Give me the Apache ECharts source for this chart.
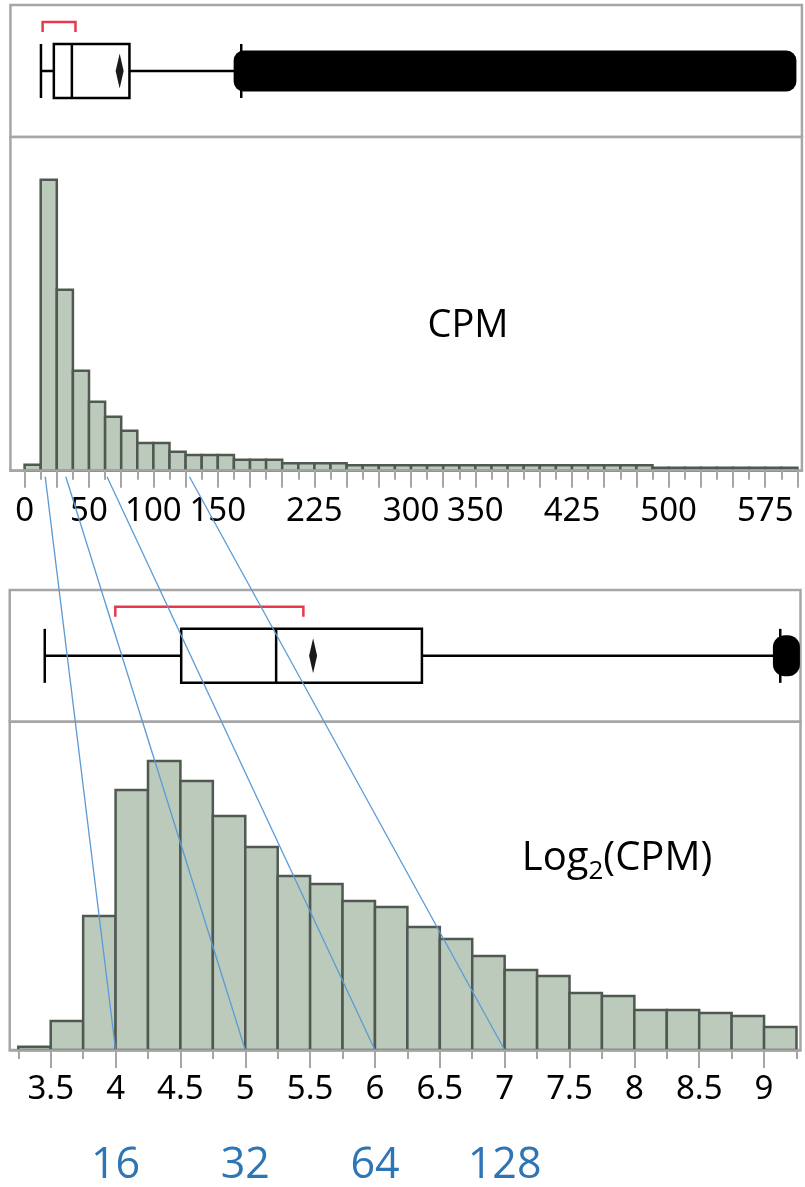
<!DOCTYPE html>
<html>
<head>
<meta charset="utf-8">
<script src="https://cdn.jsdelivr.net/npm/echarts@6/dist/echarts.min.js"></script>
<style>
  html, body { margin: 0; padding: 0; background: #fff; }
  #chart { width: 805px; height: 1187px; }
</style>
</head>
<body>
<div id="chart"></div>
<script>
// ---- CPM distribution (bins of 12.5 starting at 0) ----
const cpmBinStart = 0;
const cpmBinWidth = 12.5;
const cpmCounts = [
  6, 291, 181, 100, 69, 54, 40, 27.7, 27.7, 19,
  15.7, 15.7, 15.7, 11, 11, 11, 7.5, 7.5, 7.5, 7.5,
  5.5, 5.5, 5.5, 5.5, 5.5, 5.5, 5.5, 5.5, 5.5, 5.5,
  5.5, 5.5, 5.5, 5.5, 5.5, 5.5, 5.5, 5.5, 5.5,
  3, 3, 3, 3, 3, 3, 3, 3, 3
];
const cpmTickLabels = [0, 50, 100, 150, 225, 300, 350, 425, 500, 575];
const cpmAxisRange = [-11, 603.5];

// CPM box plot: [lower whisker, Q1, median, Q3, upper whisker]
const cpmBoxStats = [12.7, 22.7, 36.7, 81.4, 168.2];
const cpmMean = 73.8;
const cpmShortestHalf = [14, 39.5];
const cpmOutlierSpan = [168.5, 593];

// ---- log2(CPM) distribution (bins of 0.25 starting at 3.25) ----
const logBinStart = 3.25;
const logBinWidth = 0.25;
const logCounts = [
  3.3, 29, 134, 260, 289, 269, 234, 203, 174, 166, 149, 143,
  123, 111, 94, 80, 74, 57, 54, 40, 40, 37, 34, 23
];
const logTickLabels = [3.5, 4, 4.5, 5, 5.5, 6, 6.5, 7, 7.5, 8, 8.5, 9];
const logAxisRange = [3.184, 9.281];

// log2(CPM) box plot: [lower whisker, Q1, median, Q3, upper whisker]
const logBoxStats = [3.454, 4.506, 5.238, 6.362, 9.125];
const logMean = 5.523;
const logShortestHalf = [3.998, 5.448];
const logOutlierSpan = [9.13, 9.215];

// CPM values linked between the two scales
const linkedCpm = [16, 32, 64, 128];

// ---- derived tick positions ----
const cpmMajorTicks = [];
const cpmMinorTicks = [];
for (let i = 0; i <= 48; i++) {
  const v = cpmBinStart + i * cpmBinWidth;
  (i % 2 === 0 ? cpmMajorTicks : cpmMinorTicks).push(v);
}
const logMajorTicks = [];
const logMinorTicks = [];
for (let i = 0; i <= 24; i++) {
  const v = logBinStart + i * logBinWidth;
  (i % 2 === 1 ? logMajorTicks : logMinorTicks).push(+v.toFixed(2));
}

const binRows = (start, width, counts) =>
  counts.map((c, i) => [start + i * width, start + (i + 1) * width, c]);

// ---- styles ----
const FRAME = '#a6a6a6';
const BAR_FILL = '#bbcabb';
const BAR_EDGE = '#505852';
const TICK_FONT = 'Noto Sans';
const TITLE_FONT = 'Open Sans';

function renderBars(params, api) {
  const p0 = api.coord([api.value(0), api.value(2)]);
  const p1 = api.coord([api.value(1), 0]);
  return {
    type: 'rect',
    shape: { x: p0[0], y: p0[1], width: p1[0] - p0[0], height: p1[1] - p0[1] },
    style: { fill: BAR_FILL, stroke: BAR_EDGE, lineWidth: 2.5 }
  };
}

function makeBoxRenderer(blobRadius) {
  return function (params, api) {
    const v = i => api.value(i);
    const px = val => api.coord([val, 0])[0];
    const cy = api.coord([v(0), 0])[1];
    const halfBox = 27, halfBlob = 20.5, halfDiamond = 17.5, halfDiamondW = 4;
    const blobPad = 8;
    const ink = { stroke: '#000', lineWidth: 2.5 };
    const xLo = px(v(0)), xQ1 = px(v(1)), xMed = px(v(2)), xQ3 = px(v(3)), xHi = px(v(4));
    const xMean = px(v(5));
    const xB1 = px(v(6)), xB2 = px(v(7));
    const xO1 = px(v(8)) - blobPad, xO2 = px(v(9)) + blobPad;
    return {
      type: 'group',
      children: [
        { type: 'rect', shape: { x: xO1, y: cy - halfBlob, width: xO2 - xO1, height: 2 * halfBlob, r: blobRadius },
          style: { fill: '#000' } },
        { type: 'line', shape: { x1: xLo, y1: cy, x2: xQ1, y2: cy }, style: ink },
        { type: 'line', shape: { x1: xQ3, y1: cy, x2: xHi, y2: cy }, style: ink },
        { type: 'line', shape: { x1: xLo, y1: cy - halfBox, x2: xLo, y2: cy + halfBox }, style: ink },
        { type: 'line', shape: { x1: xHi, y1: cy - halfBox, x2: xHi, y2: cy + halfBox }, style: ink },
        { type: 'rect', shape: { x: xQ1, y: cy - halfBox, width: xQ3 - xQ1, height: 2 * halfBox },
          style: { fill: 'transparent', stroke: '#000', lineWidth: 2.5 } },
        { type: 'line', shape: { x1: xMed, y1: cy - halfBox, x2: xMed, y2: cy + halfBox }, style: ink },
        { type: 'polygon', shape: { points: [[xMean, cy - halfDiamond], [xMean + halfDiamondW, cy],
                                             [xMean, cy + halfDiamond], [xMean - halfDiamondW, cy]] },
          style: { fill: '#1a1a1a' } },
        { type: 'polyline', shape: { points: [[xB1, cy - 39], [xB1, cy - 49], [xB2, cy - 49], [xB2, cy - 39]] },
          style: { stroke: '#e8384f', lineWidth: 2.5, fill: null } }
      ]
    };
  };
}

const hiddenAxis = (gridIndex, range) => ({
  type: 'value', gridIndex, position: 'bottom', min: range[0], max: range[1], show: false
});

const tickAxis = (gridIndex, range, ticks, length, extra) => Object.assign({
  type: 'value', gridIndex, position: 'bottom', offset: 0,
  min: range[0], max: range[1], z: 5,
  axisLine: { show: false },
  splitLine: { show: false },
  axisLabel: { show: false },
  axisTick: { show: true, customValues: ticks, length, lineStyle: { color: FRAME, width: 2 } }
}, extra || {});

const tickLabelStyle = {
  show: true, color: '#000', fontFamily: TICK_FONT, fontSize: 33,
  verticalAlign: 'middle', margin: 41
};

const gridFrame = { show: true, borderColor: FRAME, borderWidth: 2.5, backgroundColor: '#fff', outerBoundsMode: 'none' };

const chart = echarts.init(document.getElementById('chart'), null, { renderer: 'canvas' });

chart.setOption({
  animation: false,
  backgroundColor: '#fff',
  grid: [
    Object.assign({ left: 10.43, width: 791.5, top: 5, height: 132 }, gridFrame),
    Object.assign({ left: 10.43, width: 791.5, top: 137, height: 333.7 }, gridFrame),
    Object.assign({ left: 9.74, width: 790.76, top: 590, height: 131.7 }, gridFrame),
    Object.assign({ left: 9.74, width: 790.76, top: 721.7, height: 328.3 }, gridFrame)
  ],
  xAxis: [
    hiddenAxis(0, cpmAxisRange),
    tickAxis(1, cpmAxisRange, cpmMajorTicks, 17, {
      axisLine: { show: true, lineStyle: { color: FRAME, width: 2.5 } },
      axisLabel: Object.assign({ customValues: cpmTickLabels }, tickLabelStyle)
    }),
    tickAxis(1, cpmAxisRange, cpmMinorTicks, 9),
    hiddenAxis(2, logAxisRange),
    tickAxis(3, logAxisRange, logMajorTicks, 18, {
      axisLine: { show: true, lineStyle: { color: FRAME, width: 2.5 } },
      axisLabel: Object.assign({ customValues: logTickLabels, formatter: v => String(v) },
                               tickLabelStyle, { margin: 40 })
    }),
    tickAxis(3, logAxisRange, logMinorTicks, 9),
    {
      type: 'value', gridIndex: 3, position: 'bottom', offset: 0,
      min: logAxisRange[0], max: logAxisRange[1],
      axisLine: { show: false }, splitLine: { show: false }, axisTick: { show: false },
      axisLabel: {
        show: true, customValues: linkedCpm.map(Math.log2),
        formatter: v => String(Math.round(Math.pow(2, v))),
        color: '#2e75b6', fontFamily: TITLE_FONT, fontSize: 43,
        verticalAlign: 'middle', margin: 116
      }
    }
  ],
  yAxis: [
    { type: 'value', gridIndex: 0, min: -1, max: 1, show: false },
    { type: 'value', gridIndex: 1, min: 0, max: 333.7, show: false },
    { type: 'value', gridIndex: 2, min: -1, max: 1, show: false },
    { type: 'value', gridIndex: 3, min: 0, max: 328.3, show: false }
  ],
  series: [
    {
      type: 'custom', name: 'CPM', xAxisIndex: 1, yAxisIndex: 1, z: 2,
      data: binRows(cpmBinStart, cpmBinWidth, cpmCounts),
      encode: { x: [0, 1], y: 2 },
      renderItem: renderBars
    },
    {
      type: 'custom', name: 'Log2(CPM)', xAxisIndex: 4, yAxisIndex: 3, z: 2,
      data: binRows(logBinStart, logBinWidth, logCounts),
      encode: { x: [0, 1], y: 2 },
      renderItem: renderBars
    },
    {
      type: 'custom', name: 'CPM box', xAxisIndex: 0, yAxisIndex: 0, z: 3,
      data: [[...cpmBoxStats, cpmMean, ...cpmShortestHalf, ...cpmOutlierSpan]],
      encode: { x: [0, 4] },
      renderItem: makeBoxRenderer(10)
    },
    {
      type: 'custom', name: 'Log2(CPM) box', xAxisIndex: 3, yAxisIndex: 2, z: 3,
      data: [[...logBoxStats, logMean, ...logShortestHalf, ...logOutlierSpan]],
      encode: { x: [0, 4] },
      renderItem: makeBoxRenderer(12)
    }
  ]
});

// Titles and the lines tying CPM values to their log2 positions
const links = linkedCpm.map(c => {
  const top = chart.convertToPixel({ seriesIndex: 0 }, [c, 0]);
  const bot = chart.convertToPixel({ seriesIndex: 1 }, [Math.log2(c), 0]);
  return {
    type: 'line', z: 100,
    shape: { x1: top[0], y1: top[1] + 6, x2: bot[0], y2: bot[1] },
    style: { stroke: '#5b9bd5', lineWidth: 1.3 }
  };
});

chart.setOption({
  graphic: [
    {
      type: 'text', z: 50, x: 468, y: 326,
      style: { text: 'CPM', fill: '#000', font: '38px "Open Sans"', align: 'center', verticalAlign: 'middle' }
    },
    {
      type: 'text', z: 50, x: 617, y: 859,
      style: {
        text: '{m|Log}{s|2}{m|(CPM)}',
        align: 'center', verticalAlign: 'middle',
        rich: {
          m: { fontFamily: TITLE_FONT, fontSize: 40, lineHeight: 52, fill: '#000' },
          s: { fontFamily: TITLE_FONT, fontSize: 26, lineHeight: 20, verticalAlign: 'bottom', fill: '#000' }
        }
      }
    },
    ...links
  ]
});
</script>
</body>
</html>
